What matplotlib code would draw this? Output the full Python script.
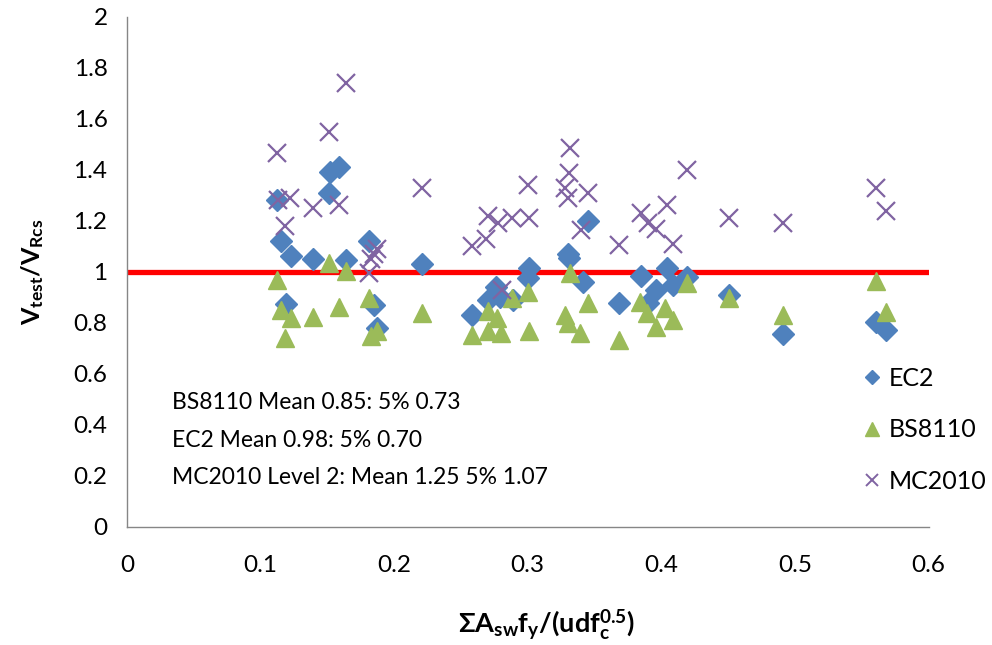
import numpy as np
import matplotlib
matplotlib.use('Agg')
import matplotlib.pyplot as plt
from matplotlib.lines import Line2D

plt.rcParams['font.family'] = ['Lato', 'DejaVu Sans']
plt.rcParams['mathtext.fontset'] = 'custom'
plt.rcParams['mathtext.rm'] = 'Lato'
plt.rcParams['mathtext.bf'] = 'Lato:bold'

##      DATA       ##
ec2_x = [0.112, 0.115, 0.119, 0.123, 0.139, 0.151, 0.152, 0.159, 0.164, 0.181, 0.185, 0.187,
         0.221, 0.258, 0.270, 0.276, 0.279, 0.289, 0.300, 0.301, 0.330, 0.331, 0.341, 0.345,
         0.368, 0.385, 0.390, 0.396, 0.404, 0.409, 0.419, 0.451, 0.491, 0.561, 0.568]
ec2_y = [1.28, 1.12, 0.874, 1.063, 1.05, 1.31, 1.39, 1.41, 1.047, 1.12, 0.87, 0.78,
         1.03, 0.83, 0.89, 0.94, 0.90, 0.89, 0.976, 1.015, 1.07, 1.055, 0.96, 1.20,
         0.878, 0.984, 0.878, 0.93, 1.016, 0.95, 0.98, 0.91, 0.757, 0.805, 0.773]

bs_x = [0.112, 0.115, 0.118, 0.123, 0.139, 0.151, 0.159, 0.164, 0.181, 0.183, 0.187, 0.221,
        0.258, 0.270, 0.270, 0.277, 0.280, 0.288, 0.300, 0.301, 0.328, 0.330, 0.332, 0.339,
        0.345, 0.368, 0.384, 0.389, 0.396, 0.403, 0.409, 0.419, 0.451, 0.491, 0.561, 0.568]
bs_y = [0.97, 0.85, 0.74, 0.82, 0.824, 1.035, 0.863, 1.004, 0.898, 0.75, 0.77, 0.84,
        0.753, 0.845, 0.77, 0.82, 0.76, 0.897, 0.92, 0.77, 0.83, 0.80, 0.995, 0.76,
        0.878, 0.733, 0.88, 0.84, 0.785, 0.86, 0.81, 0.957, 0.898, 0.83, 0.965, 0.843]

mc_x = [0.112, 0.113, 0.118, 0.122, 0.139, 0.151, 0.159, 0.164, 0.181, 0.183, 0.185, 0.187,
        0.221, 0.258, 0.269, 0.270, 0.278, 0.281, 0.288, 0.300, 0.301, 0.328, 0.330, 0.331,
        0.332, 0.340, 0.345, 0.368, 0.385, 0.390, 0.396, 0.404, 0.409, 0.419, 0.451, 0.491,
        0.561, 0.568]
mc_y = [1.467, 1.28, 1.18, 1.29, 1.25, 1.55, 1.263, 1.741, 0.996, 1.05, 1.07, 1.09,
        1.33, 1.10, 1.13, 1.22, 1.19, 0.93, 1.21, 1.341, 1.21, 1.33, 1.29, 1.388,
        1.486, 1.165, 1.31, 1.106, 1.23, 1.19, 1.17, 1.263, 1.11, 1.40, 1.21, 1.19,
        1.33, 1.24]

ref_x = [0, 0.6]
ref_y = [1, 1]

notes = ['BS8110 Mean 0.85: 5% 0.73',
         'EC2 Mean 0.98: 5% 0.70',
         'MC2010 Level 2: Mean 1.25 5% 1.07']

##      PLOT       ##
fig = plt.figure(figsize=(9.92, 6.45), dpi=100)
ax = fig.add_axes([0.128, 0.183, 0.808, 0.791])

blue, green, purple = '#4f81bd', '#9bbb59', '#8064a2'

ax.plot(ref_x, ref_y, color='#ff0000', lw=3.8, zorder=1)
ax.plot(ec2_x, ec2_y, 'D', color=blue, ms=11, ls='none', zorder=2)
ax.plot(bs_x, bs_y, '^', color=green, ms=13, ls='none', zorder=3)
ax.plot(mc_x, mc_y, 'x', color=purple, ms=13, mew=1.6, ls='none', zorder=4)

ax.set_xlim(0, 0.6)
ax.set_ylim(0, 2)
ax.set_xticks(np.arange(0, 0.61, 0.1))
ax.set_xticklabels(['0', '0.1', '0.2', '0.3', '0.4', '0.5', '0.6'])
ax.set_yticks(np.arange(0, 2.01, 0.2))
ax.set_yticklabels(['0', '0.2', '0.4', '0.6', '0.8', '1', '1.2', '1.4', '1.6', '1.8', '2'])
ax.tick_params(length=0, labelsize=17.5, colors='#000000')
ax.tick_params(axis='x', pad=20)
ax.tick_params(axis='y', pad=14)
for s in ['top', 'right']:
    ax.spines[s].set_visible(False)
for s in ['left', 'bottom']:
    ax.spines[s].set_color('#868686')
    ax.spines[s].set_linewidth(1.0)

ax.set_ylabel(r'$\mathbf{V_{test}/V_{Rcs}}$', fontsize=18)
ax.yaxis.set_label_coords(-0.101, 0.5)
ax.set_xlabel(r'$\mathbf{\Sigma A_{sw}f_{y}/(udf_{c}^{0.5})}$', fontsize=19.5)
ax.xaxis.set_label_coords(0.523, -0.158)

for i, t in enumerate(notes):
    ax.text(0.034, 0.486 - i * 0.147, t, fontsize=16.5, va='center', ha='left')

# legend with smaller marker glyphs than the plot
handles = [Line2D([], [], marker='D', color=blue, ms=7, ls='none'),
           Line2D([], [], marker='^', color=green, ms=10, ls='none'),
           Line2D([], [], marker='x', color=purple, ms=8.5, mew=1.4, ls='none')]
fig.legend(handles, ['EC2', 'BS8110', 'MC2010'], loc='upper left',
           bbox_to_anchor=(0.856, 0.447), frameon=False, fontsize=18,
           handlelength=1.0, handletextpad=0.2, labelspacing=1.15, borderaxespad=0)

fig.savefig('out.png', dpi=100)
